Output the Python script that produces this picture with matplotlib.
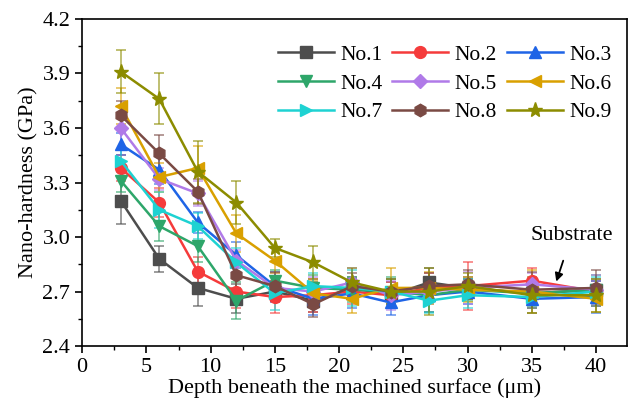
import numpy as np
import matplotlib
matplotlib.use("Agg")
import matplotlib.pyplot as plt
from matplotlib.ticker import MultipleLocator

plt.rcParams['font.family'] = ['Liberation Serif', 'DejaVu Serif']
plt.rcParams['font.size'] = 16
plt.rcParams['mathtext.fontset'] = 'stix'

# === DATA ===
depth = [3, 6, 9, 12, 15, 18, 21, 24, 27, 30, 35, 40]

no1 = [3.20, 2.88, 2.72, 2.66, 2.70, 2.65, 2.72, 2.68, 2.75, 2.72, 2.69, 2.71]
no2 = [3.38, 3.19, 2.81, 2.70, 2.67, 2.68, 2.70, 2.68, 2.72, 2.73, 2.76, 2.70]
no3 = [3.51, 3.37, 3.08, 2.90, 2.73, 2.66, 2.69, 2.64, 2.68, 2.70, 2.66, 2.67]
no4 = [3.31, 3.06, 2.95, 2.65, 2.76, 2.72, 2.71, 2.70, 2.68, 2.71, 2.69, 2.71]
no5 = [3.60, 3.32, 3.24, 2.87, 2.72, 2.70, 2.75, 2.68, 2.70, 2.72, 2.74, 2.71]
no6 = [3.72, 3.33, 3.38, 3.02, 2.87, 2.69, 2.66, 2.72, 2.72, 2.71, 2.70, 2.66]
no7 = [3.42, 3.15, 3.06, 2.86, 2.69, 2.73, 2.72, 2.70, 2.65, 2.68, 2.67, 2.70]
no8 = [3.67, 3.46, 3.25, 2.79, 2.73, 2.63, 2.73, 2.70, 2.73, 2.74, 2.71, 2.72]
no9 = [3.91, 3.76, 3.36, 3.19, 2.94, 2.86, 2.75, 2.70, 2.70, 2.73, 2.68, 2.68]

err1 = [0.13, 0.07, 0.10, 0.08, 0.06, 0.06, 0.06, 0.07, 0.08, 0.06, 0.06, 0.06]
err2 = [0.07, 0.08, 0.08, 0.09, 0.09, 0.09, 0.07, 0.07, 0.08, 0.13, 0.07, 0.06]
err3 = [0.06, 0.08, 0.06, 0.07, 0.08, 0.09, 0.08, 0.07, 0.09, 0.07, 0.08, 0.09]
err4 = [0.06, 0.08, 0.09, 0.10, 0.06, 0.07, 0.07, 0.08, 0.09, 0.06, 0.07, 0.08]
err5 = [0.12, 0.06, 0.07, 0.06, 0.08, 0.08, 0.08, 0.08, 0.07, 0.09, 0.06, 0.08]
err6 = [0.10, 0.08, 0.12, 0.10, 0.07, 0.07, 0.08, 0.11, 0.09, 0.07, 0.12, 0.07]
err7 = [0.06, 0.10, 0.07, 0.08, 0.09, 0.07, 0.10, 0.07, 0.07, 0.07, 0.06, 0.08]
err8 = [0.08, 0.10, 0.07, 0.07, 0.08, 0.07, 0.07, 0.07, 0.07, 0.08, 0.10, 0.10]
err9 = [0.12, 0.14, 0.17, 0.12, 0.05, 0.09, 0.08, 0.07, 0.13, 0.07, 0.10, 0.09]

labels = ['No.1', 'No.2', 'No.3', 'No.4', 'No.5', 'No.6', 'No.7', 'No.8', 'No.9']
series = [no1, no2, no3, no4, no5, no6, no7, no8, no9]
errors = [err1, err2, err3, err4, err5, err6, err7, err8, err9]
colors = ['#4d4d4d', '#f53b3b', '#1f64e6', '#2ea66a', '#b07ae8',
          '#d9a000', '#1ed2d2', '#7a4a44', '#8c8c00']
markers = ['s', 'o', '^', 'v', 'D', '<', '>', 'h', '*']
msizes = [8, 8.5, 8.5, 8.5, 7, 8.5, 8.5, 9, 11]

# === PLOT ===
fig = plt.figure(figsize=(6.32, 4.12), dpi=100)
ax = fig.add_axes([0.130, 0.160, 0.862, 0.794])

handles = []
for y, e, c, m, ms, lab in zip(series, errors, colors, markers, msizes, labels):
    cont = ax.errorbar(depth, y, yerr=e, color=c, marker=m, markersize=ms,
                       linewidth=1.8, elinewidth=1.3, capsize=3.5, capthick=1.3,
                       label=lab)
    for bar in cont[2]:
        bar.set_alpha(0.6)
    for cap in cont[1]:
        cap.set_alpha(0.6)
    handles.append(cont[0])

ax.set_xlim(0, 42.4)
ax.set_ylim(2.4, 4.2)
ax.xaxis.set_major_locator(MultipleLocator(5))
ax.xaxis.set_minor_locator(MultipleLocator(2.5))
ax.yaxis.set_major_locator(MultipleLocator(0.3))
ax.yaxis.set_minor_locator(MultipleLocator(0.15))
ax.set_yticks(ax.get_yticks())
ax.set_yticklabels([f"{t:.1f}" for t in ax.get_yticks()])
ax.set_ylim(2.4, 4.2)
ax.tick_params(which='major', direction='out', length=5, width=1.2, labelsize=16)
ax.tick_params(which='minor', direction='out', length=3, width=1.0)
for sp in ax.spines.values():
    sp.set_linewidth(1.2)

ax.set_xlabel("Depth beneath the machined surface (μm)", fontsize=16, labelpad=1)
ax.set_ylabel("Nano-hardness (GPa)", fontsize=16, labelpad=3)

# legend laid out row by row
order = [0, 3, 6, 1, 4, 7, 2, 5, 8]
ax.legend([handles[i] for i in order], [labels[i] for i in order],
          ncol=3, loc='upper right', bbox_to_anchor=(0.995, 0.96),
          frameon=False, handlelength=2.6, handletextpad=0.3,
          columnspacing=0.45, labelspacing=0.4, borderaxespad=0.2,
          fontsize=15.5)

ax.annotate("Substrate", xy=(36.9, 2.755), xytext=(38.1, 3.01),
            ha='center', va='center', fontsize=16,
            arrowprops=dict(arrowstyle='-|>', color='black', lw=1.3,
                            shrinkA=10, shrinkB=0, mutation_scale=12))

fig.savefig("out.png", dpi=100)
